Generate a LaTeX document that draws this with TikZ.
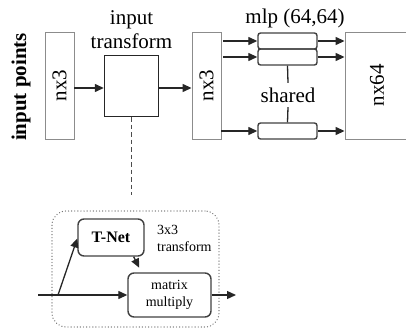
\documentclass[tikz,border=0pt]{standalone}
\usepackage{fontspec}
\setmainfont{Liberation Serif}
\usetikzlibrary{arrows.meta,calc}
\begin{document}
\begin{tikzpicture}[x=1pt,y=-1pt,
  thinbox/.style={draw=black!45,line width=0.9pt,inner sep=0pt},
  thickbox/.style={draw=black!85,line width=1.4pt,inner sep=0pt},
  mlpbox/.style={draw=black!75,line width=1.4pt,rounded corners=2.5pt,minimum width=59pt,minimum height=16pt,inner sep=0pt},
  rbox/.style={draw=black!75,line width=1.4pt,rounded corners=6pt,inner sep=0pt,align=center},
  big/.style={font=\rmfamily\fontsize{21}{24}\selectfont},
  small/.style={font=\rmfamily\fontsize{14}{17}\selectfont},
  arr/.style={draw=black!85,line width=1.3pt,-{Triangle[length=9pt,width=8pt]}},
  ln/.style={draw=black!85,line width=1.3pt}]
\useasboundingbox (0,0) rectangle (406,334);
% top row
\node[rotate=90,font=\rmfamily\fontsize{21}{24}\selectfont\bfseries] (ip) at (21,87) {input points};
\node[thinbox,minimum width=29pt,minimum height=107pt] (na) at (59.5,85.5) {};
\node[big,rotate=90] at (na) {nx3};
\node[thickbox,minimum width=54pt,minimum height=61pt] (tr) at (131.5,86) {};
\node[big,align=center] (trl) at (131.5,30) {input\\transform};
\node[thinbox,minimum width=29pt,minimum height=107pt] (nb) at (206.5,85.5) {};
\node[big,rotate=90] at (nb) {nx3};
\node[big] (mlpl) at (295,18) {mlp (64,64)};
\node[mlpbox] (m1) at (287.5,41) {};
\node[mlpbox] (m2) at (287.5,57) {};
\node[mlpbox] (m3) at (287.5,131) {};
\node[big,minimum height=24pt,inner sep=0pt] (sh) at (288,95) {shared};
\node[thinbox,minimum width=64pt,minimum height=107pt] (nc) at (377,85.5) {};
\node[big,rotate=90] at (nc) {nx64};
% connectors
\draw[arr] ($(na.east)+(0,2.5)$) -- ($(tr.west)+(0,2)$);
\draw[arr] ($(tr.east)+(0,2)$) -- ($(nb.west)+(0,2.5)$);
\draw[arr] (nb.east |- m1) ++(2,0) -- (m1.west);
\draw[arr] (nb.east |- m2) ++(2,0) -- (m2.west);
\draw[arr] (nb.east |- m3) -- (m3.west);
\draw[arr] (m1.east) -- (m1.east -| nc.west);
\draw[arr] (m2.east) -- (m2.east -| nc.west);
\draw[arr] (m3.east) -- (m3.east -| nc.west);
\draw[ln] (m2.south) -- (sh.north);
\draw[ln] (sh.south) -- (m3.north);
\coordinate (dend) at (131.5,195);
\draw[draw=black!70,line width=1.1pt,dash pattern=on 4.5pt off 3pt] (tr.south) -- (dend);
% bottom detail
\node[draw=black!55,line width=1.3pt,dash pattern=on 0.1pt off 3pt,line cap=round,rounded corners=14pt,minimum width=167pt,minimum height=116pt,inner sep=0pt] (dot) at (135.5,269) {};
\node[rbox,minimum width=66pt,minimum height=37pt,font=\rmfamily\fontsize{16}{19}\selectfont\bfseries] (tn) at (111,237.5) {T-Net};
\node[small,align=left,anchor=west,inner sep=0pt] (tt) at (157,238) {3x3\\transform};
\node[rbox,small,minimum width=83pt,minimum height=44pt] (mm) at (169.5,295) {matrix\\multiply};
\coordinate (in) at (38,295);
\coordinate (br) at (58,295);
\coordinate (out) at (236,295);
\draw[arr] (in) -- (mm.west);
\draw[arr] (br) -- ($(tn.west)+(0,1)$);
\draw[arr] ($(tn.south east)+(-11,0)$) -- ++(5.5,11);
\draw[arr] (mm.east) -- (out);
\end{tikzpicture}
\end{document}
